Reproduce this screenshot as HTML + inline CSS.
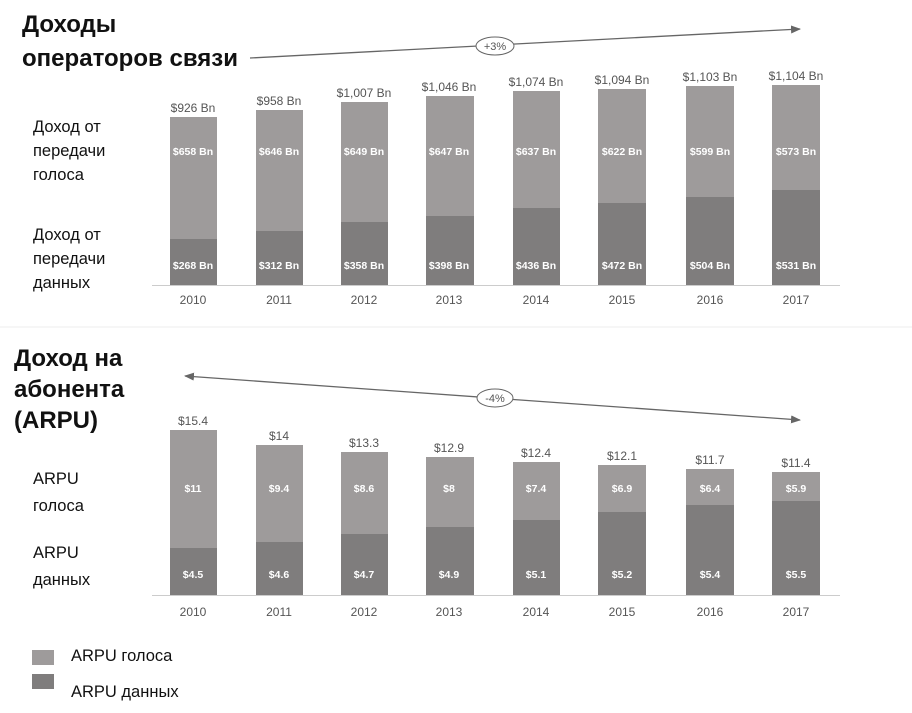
<!DOCTYPE html>
<html><head><meta charset="utf-8"><style>
html,body{margin:0;padding:0;background:#fff;}
svg{display:block;}
</style></head><body>
<svg width="912" height="713" viewBox="0 0 912 713" xmlns="http://www.w3.org/2000/svg">
<defs>
<marker id="ah" markerWidth="10" markerHeight="8" refX="9" refY="4" orient="auto" markerUnits="userSpaceOnUse"><path d="M0,0 L10,4 L0,8 z" fill="#666"/></marker>
<marker id="ahs" markerWidth="10" markerHeight="8" refX="1" refY="4" orient="auto" markerUnits="userSpaceOnUse"><path d="M10,0 L0,4 L10,8 z" fill="#666"/></marker>
</defs>
<g font-family="'Liberation Sans','Noto Sans CJK SC',sans-serif">
<text x="22" y="32" font-size="24" font-weight="bold" fill="#111">Доходы</text>
<text x="22" y="66" font-size="24" font-weight="bold" fill="#111" textLength="216">операторов связи</text>
<g font-size="16.5" fill="#111">
<text x="33" y="132">Доход от</text><text x="33" y="156">передачи</text><text x="33" y="180">голоса</text>
<text x="33" y="240">Доход от</text><text x="33" y="264">передачи</text><text x="33" y="288">данных</text>
<text x="33" y="484">ARPU</text><text x="33" y="511">голоса</text>
<text x="33" y="558">ARPU</text><text x="33" y="585">данных</text>
<text x="71" y="661">ARPU голоса</text><text x="71" y="697">ARPU данных</text>
</g>
<text x="14" y="366" font-size="24" font-weight="bold" fill="#111">Доход на</text>
<text x="14" y="397" font-size="24" font-weight="bold" fill="#111">абонента</text>
<text x="14" y="428" font-size="24" font-weight="bold" fill="#111">(ARPU)</text>
<rect x="32" y="650" width="22" height="15" fill="#9e9b9b"/>
<rect x="32" y="674" width="22" height="15" fill="#7f7d7d"/>
<line x1="0" y1="327" x2="912" y2="327" stroke="#eee" stroke-width="1"/>

<line x1="250" y1="58" x2="800" y2="29" stroke="#666" stroke-width="1.3" marker-end="url(#ah)"/>
<ellipse cx="495" cy="46" rx="19" ry="9" fill="#fff" stroke="#666"/>
<text x="495" y="50" font-size="11" fill="#555" text-anchor="middle">+3%</text>
<line x1="185" y1="376" x2="800" y2="420" stroke="#666" stroke-width="1.3" marker-start="url(#ahs)" marker-end="url(#ah)"/>
<ellipse cx="495" cy="398" rx="18" ry="9" fill="#fff" stroke="#666"/>
<text x="495" y="402" font-size="11" fill="#555" text-anchor="middle">-4%</text>

<line x1="152" y1="285.5" x2="840" y2="285.5" stroke="#ccc"/>
<line x1="152" y1="595.5" x2="840" y2="595.5" stroke="#ccc"/>
</g>
<g font-family="'Liberation Sans',sans-serif" text-anchor="middle">
<g fill="#9e9b9b">
<rect x="170" y="117" width="47" height="168"/><rect x="256" y="110" width="47" height="175"/><rect x="341" y="102" width="47" height="183"/><rect x="426" y="96" width="48" height="189"/><rect x="513" y="91" width="47" height="194"/><rect x="598" y="89" width="48" height="196"/><rect x="686" y="86" width="48" height="199"/><rect x="772" y="85" width="48" height="200"/>
<rect x="170" y="430" width="47" height="165"/><rect x="256" y="445" width="47" height="150"/><rect x="341" y="452" width="47" height="143"/><rect x="426" y="457" width="48" height="138"/><rect x="513" y="462" width="47" height="133"/><rect x="598" y="465" width="48" height="130"/><rect x="686" y="469" width="48" height="126"/><rect x="772" y="472" width="48" height="123"/>
</g>
<g fill="#7f7d7d">
<rect x="170" y="239" width="47" height="46"/><rect x="256" y="231" width="47" height="54"/><rect x="341" y="222" width="47" height="63"/><rect x="426" y="216" width="48" height="69"/><rect x="513" y="208" width="47" height="77"/><rect x="598" y="203" width="48" height="82"/><rect x="686" y="197" width="48" height="88"/><rect x="772" y="190" width="48" height="95"/>
<rect x="170" y="548" width="47" height="47"/><rect x="256" y="542" width="47" height="53"/><rect x="341" y="534" width="47" height="61"/><rect x="426" y="527" width="48" height="68"/><rect x="513" y="520" width="47" height="75"/><rect x="598" y="512" width="48" height="83"/><rect x="686" y="505" width="48" height="90"/><rect x="772" y="501" width="48" height="94"/>
</g>
<g font-size="12" fill="#555">
<text x="193" y="112">$926 Bn</text><text x="279" y="105">$958 Bn</text><text x="364" y="97">$1,007 Bn</text><text x="449" y="91">$1,046 Bn</text><text x="536" y="86">$1,074 Bn</text><text x="622" y="84">$1,094 Bn</text><text x="710" y="81">$1,103 Bn</text><text x="796" y="80">$1,104 Bn</text>
<text x="193" y="425">$15.4</text><text x="279" y="440">$14</text><text x="364" y="447">$13.3</text><text x="449" y="452">$12.9</text><text x="536" y="457">$12.4</text><text x="622" y="460">$12.1</text><text x="710" y="464">$11.7</text><text x="796" y="467">$11.4</text>
<text x="193" y="304">2010</text><text x="279" y="304">2011</text><text x="364" y="304">2012</text><text x="449" y="304">2013</text><text x="536" y="304">2014</text><text x="622" y="304">2015</text><text x="710" y="304">2016</text><text x="796" y="304">2017</text>
<text x="193" y="616">2010</text><text x="279" y="616">2011</text><text x="364" y="616">2012</text><text x="449" y="616">2013</text><text x="536" y="616">2014</text><text x="622" y="616">2015</text><text x="710" y="616">2016</text><text x="796" y="616">2017</text>
</g>
<g font-size="10.5" font-weight="bold" fill="#fff">
<text x="193" y="155">$658 Bn</text><text x="279" y="155">$646 Bn</text><text x="364" y="155">$649 Bn</text><text x="449" y="155">$647 Bn</text><text x="536" y="155">$637 Bn</text><text x="622" y="155">$622 Bn</text><text x="710" y="155">$599 Bn</text><text x="796" y="155">$573 Bn</text>
<text x="193" y="269">$268 Bn</text><text x="279" y="269">$312 Bn</text><text x="364" y="269">$358 Bn</text><text x="449" y="269">$398 Bn</text><text x="536" y="269">$436 Bn</text><text x="622" y="269">$472 Bn</text><text x="710" y="269">$504 Bn</text><text x="796" y="269">$531 Bn</text>
<text x="193" y="492">$11</text><text x="279" y="492">$9.4</text><text x="364" y="492">$8.6</text><text x="449" y="492">$8</text><text x="536" y="492">$7.4</text><text x="622" y="492">$6.9</text><text x="710" y="492">$6.4</text><text x="796" y="492">$5.9</text>
<text x="193" y="578">$4.5</text><text x="279" y="578">$4.6</text><text x="364" y="578">$4.7</text><text x="449" y="578">$4.9</text><text x="536" y="578">$5.1</text><text x="622" y="578">$5.2</text><text x="710" y="578">$5.4</text><text x="796" y="578">$5.5</text>
</g>
</g>
</svg>
</body></html>
